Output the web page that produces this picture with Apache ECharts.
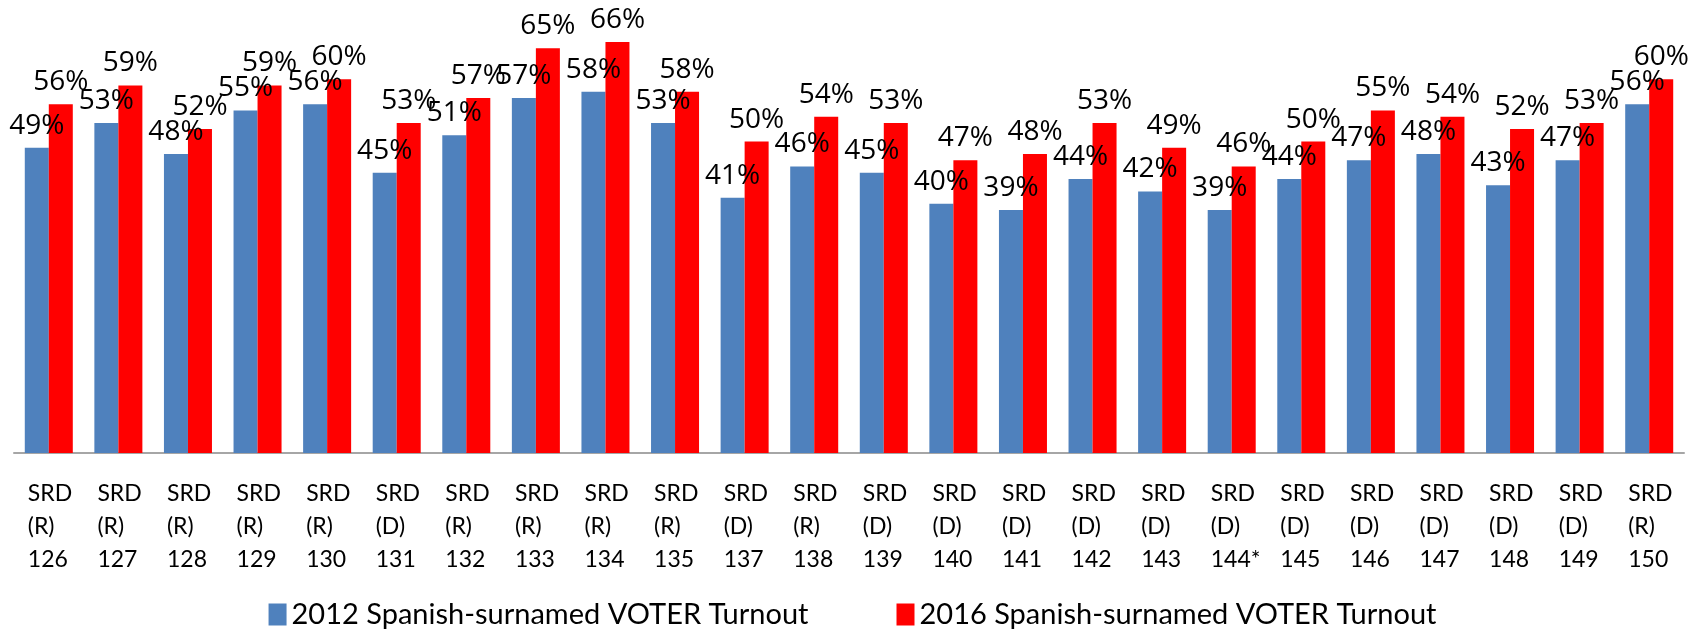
<!DOCTYPE html>
<html>
<head>
<meta charset="utf-8">
<script src="https://cdn.jsdelivr.net/npm/echarts@6/dist/echarts.min.js"></script>
<style>
	html, body { margin: 0; padding: 0; background: #fff; }
	#chart { width: 1705px; height: 630px; }
</style>
</head>
<body>
<div id="chart"></div>
<script>
var districts = [ '126', '127', '128', '129', '130', '131', '132', '133', '134', '135', '137', '138',
	'139', '140', '141', '142', '143', '144*', '145', '146', '147', '148', '149', '150' ];
var parties = [ 'R', 'R', 'R', 'R', 'R', 'D', 'R', 'R', 'R', 'R', 'D', 'R',
	'D', 'D', 'D', 'D', 'D', 'D', 'D', 'D', 'D', 'D', 'D', 'R' ];
var turnout2012 = [ 49, 53, 48, 55, 56, 45, 51, 57, 58, 53, 41, 46, 45, 40, 39, 44, 42, 39, 44, 47, 48, 43, 47, 56 ];
var turnout2016 = [ 56, 59, 52, 59, 60, 53, 57, 65, 66, 58, 50, 54, 53, 47, 48, 53, 49, 46, 50, 55, 54, 52, 53, 60 ];
var seriesNames = [ '2012 Spanish-surnamed VOTER Turnout', '2016 Spanish-surnamed VOTER Turnout' ];

// three lines per tick: SRD / (party) / district number
var categories = districts.map(function(d, i) {
	return 'SRD\n(' + parties[i] + ')\n' + d;
});

var labelStyle = {
	show : true,
	position : 'top',
	distance : 8,
	fontFamily : 'Open Sans',
	fontSize : 28,
	color : '#000',
	formatter : '{c}%'
};

var option = {
	animation : false,
	grid : {
		left : 14,
		right : 21,
		top : 17,
		bottom : 177
	},
	legend : {
		bottom : -4,
		left : 'center',
		itemWidth : 18,
		itemHeight : 22,
		itemGap : 88,
		icon : 'rect',
		textStyle : {
			fontFamily : 'Lato',
			fontSize : 29,
			color : '#000'
		},
		data : seriesNames
	},
	xAxis : {
		type : 'category',
		data : categories,
		axisLine : {
			lineStyle : {
				color : '#A6A6A6',
				width : 2
			}
		},
		axisTick : {
			show : false
		},
		axisLabel : {
			interval : 0,
			margin : 24,
			color : '#000',
			formatter : function(value) {
				return value.split('\n').map(function(line) {
					return '{a|' + line + '}';
				}).join('\n');
			},
			rich : {
				a : {
					width : 42,
					align : 'left',
					fontFamily : 'Lato',
					fontSize : 23,
					lineHeight : 33,
					color : '#000'
				}
			}
		}
	},
	yAxis : {
		type : 'value',
		min : 0,
		max : 70,
		show : false,
		splitLine : {
			show : false
		}
	},
	series : [ {
		name : seriesNames[0],
		type : 'bar',
		barGap : '0%',
		barCategoryGap : '31%',
		itemStyle : {
			color : '#4F81BD'
		},
		label : labelStyle,
		data : turnout2012
	}, {
		name : seriesNames[1],
		type : 'bar',
		itemStyle : {
			color : '#FF0000'
		},
		label : labelStyle,
		data : turnout2016
	} ]
};

var chart = echarts.init(document.getElementById('chart'));
chart.setOption(option, true);
</script>
</body>
</html>
